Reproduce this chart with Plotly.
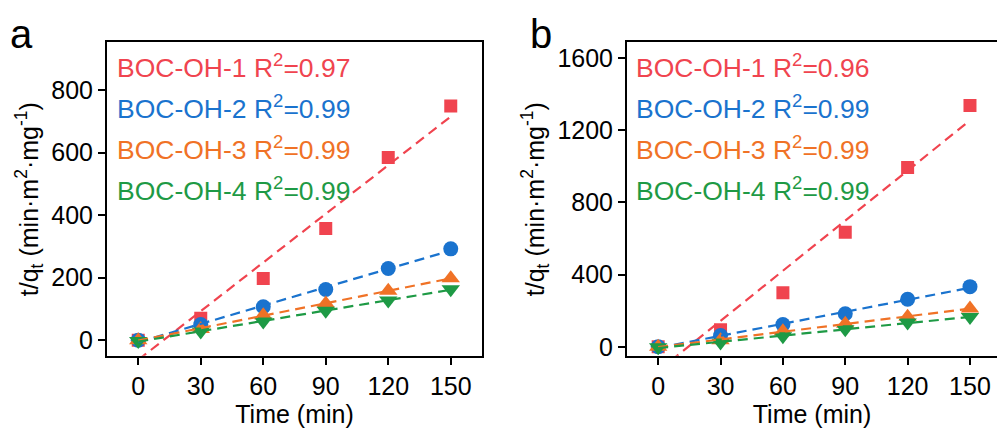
import numpy as np
import plotly.graph_objects as go

time = [0, 30, 60, 90, 120, 150]
names = ["BOC-OH-1", "BOC-OH-2", "BOC-OH-3", "BOC-OH-4"]
r2_a = ["0.97", "0.99", "0.99", "0.99"]
r2_b = ["0.96", "0.99", "0.99", "0.99"]

a_oh1 = [0, 70, 197, 357, 584, 749]
a_oh2 = [0, 50, 107, 162, 229, 292]
a_oh3 = [0, 36, 80, 117, 158, 198]
a_oh4 = [-3, 28, 60, 94, 127, 163]

b_oh1 = [0, 95, 300, 634, 994, 1337]
b_oh2 = [0, 62, 123, 183, 263, 333]
b_oh3 = [0, 36, 86, 127, 167, 212]
b_oh4 = [-3, 24, 59, 97, 134, 165]

xticks = [0, 30, 60, 90, 120, 150]
yticks_a = [0, 200, 400, 600, 800]
yticks_b = [0, 400, 800, 1200, 1600]

colors = ["#F0444F", "#1A73CE", "#F07226", "#1E9A45"]
symbols = ["square", "circle", "triangle-up", "triangle-down"]
msizes = [13, 15, 16, 16]

FONT = "Liberation Sans, Arial, sans-serif"

fig = go.Figure()

def add_panel(series, xa, ya):
    for i, ys in enumerate(series):
        fig.add_trace(go.Scatter(x=time, y=ys, mode="markers", xaxis=xa, yaxis=ya,
                                 marker=dict(symbol=symbols[i], size=msizes[i], color=colors[i],
                                             line=dict(width=0)),
                                 showlegend=False))
    for i, ys in enumerate(series):
        k, b = np.polyfit(time, ys, 1)
        xf = np.array([time[0], time[-1]], dtype=float)
        fig.add_trace(go.Scatter(x=xf, y=k * xf + b, mode="lines", xaxis=xa, yaxis=ya,
                                 line=dict(color=colors[i], width=2.2, dash="10px,6px"),
                                 showlegend=False))

add_panel([a_oh1, a_oh2, a_oh3, a_oh4], "x", "y")
add_panel([b_oh1, b_oh2, b_oh3, b_oh4], "x2", "y2")

ydom = [1 - 360 / 428, 1 - 43 / 428]
axis_common = dict(showline=True, linecolor="black", linewidth=2, ticks="outside",
                   ticklen=7, tickwidth=1.5, tickcolor="black", showgrid=False,
                   zeroline=False, tickfont=dict(family=FONT, size=25, color="black"))
ytitle = dict(text="t/q<sub>t</sub> (min·m<sup>2</sup>·mg<sup>-1</sup>)",
              font=dict(family=FONT, size=25, color="black"), standoff=6)
xtitle = dict(text="Time (min)", font=dict(family=FONT, size=25, color="black"), standoff=4)

fig.update_layout(
    width=997, height=428, margin=dict(l=0, r=0, t=0, b=0),
    paper_bgcolor="white", plot_bgcolor="white",
    xaxis=dict(domain=[107 / 997, 482 / 997], range=[-15, 165], tickvals=xticks,
               mirror=True, anchor="y", title=xtitle, **axis_common),
    yaxis=dict(domain=ydom, range=[-50, 952], tickvals=yticks_a, mirror=True,
               anchor="x", title=ytitle, **axis_common),
    xaxis2=dict(domain=[627 / 997, 1.0], range=[-15, 163], tickvals=xticks,
                mirror=True, anchor="y2", title=xtitle, **axis_common),
    yaxis2=dict(domain=ydom, range=[-50, 1686], tickvals=yticks_b, mirror=False,
                anchor="x2", title=ytitle, **axis_common),
)

ann = []
ys_txt = [67, 108, 150, 191]
for px, r2s in [(115, r2_a), (634, r2_b)]:
    for i in range(4):
        ann.append(dict(x=px / 997, y=1 - ys_txt[i] / 428, xref="paper", yref="paper",
                        xanchor="left", yanchor="middle", showarrow=False,
                        text=f"{names[i]} R<sup>2</sup>={r2s[i]}",
                        font=dict(family=FONT, size=26.5, color=colors[i])))
ann.append(dict(x=8 / 997, y=1 - 34 / 428, xref="paper", yref="paper", xanchor="left",
                yanchor="middle", showarrow=False, text="a",
                font=dict(family=FONT, size=40, color="black")))
ann.append(dict(x=528 / 997, y=1 - 34 / 428, xref="paper", yref="paper", xanchor="left",
                yanchor="middle", showarrow=False, text="b",
                font=dict(family=FONT, size=40, color="black")))
fig.update_layout(annotations=ann)

fig.write_html("out.html")
